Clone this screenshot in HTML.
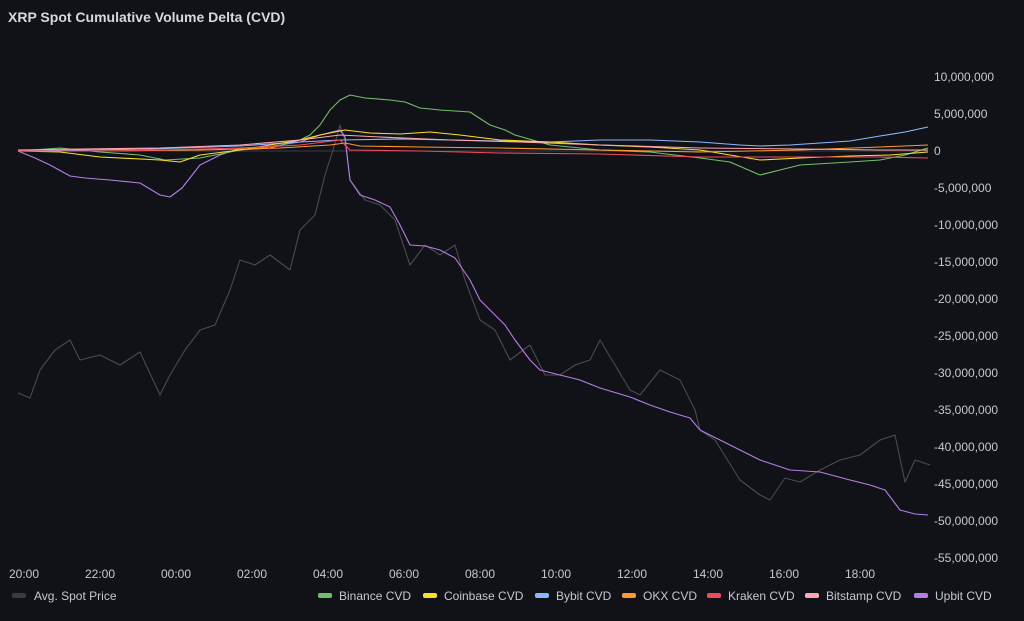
<!DOCTYPE html>
<html><head><meta charset="utf-8"><style>
html,body{margin:0;padding:0;background:#111217;}
body{width:1024px;height:616px;overflow:hidden;font-family:"Liberation Sans",sans-serif;}
</style></head><body>
<svg width="1024" height="616" viewBox="0 0 1024 616" xmlns="http://www.w3.org/2000/svg" font-family="Liberation Sans, sans-serif">
<rect width="1024" height="616" fill="#111217"/>
<text x="8" y="22" fill="#d8d9dc" font-size="14" font-weight="bold">XRP Spot Cumulative Volume Delta (CVD)</text>
<g fill="#c7c8cc" font-size="12" text-anchor="start">
<text x="934" y="81">10,000,000</text>
<text x="934" y="118">5,000,000</text>
<text x="934" y="155">0</text>
<text x="934" y="192">-5,000,000</text>
<text x="934" y="229">-10,000,000</text>
<text x="934" y="266">-15,000,000</text>
<text x="934" y="303">-20,000,000</text>
<text x="934" y="340">-25,000,000</text>
<text x="934" y="377">-30,000,000</text>
<text x="934" y="414">-35,000,000</text>
<text x="934" y="451">-40,000,000</text>
<text x="934" y="488">-45,000,000</text>
<text x="934" y="525">-50,000,000</text>
<text x="934" y="562">-55,000,000</text>
</g>
<g fill="#c7c8cc" font-size="12" text-anchor="middle">
<text x="24" y="578">20:00</text><text x="100" y="578">22:00</text><text x="176" y="578">00:00</text>
<text x="252" y="578">02:00</text><text x="328" y="578">04:00</text><text x="404" y="578">06:00</text>
<text x="480" y="578">08:00</text><text x="556" y="578">10:00</text><text x="632" y="578">12:00</text>
<text x="708" y="578">14:00</text><text x="784" y="578">16:00</text><text x="860" y="578">18:00</text>
</g>
<line x1="18" y1="151" x2="928" y2="151" stroke="#3a3b40" stroke-width="1"/>
<g fill="none" stroke-width="1.1" stroke-linejoin="round">
<polyline stroke="#4a4b50" points="18,393 30,398 40,370 55,350 70,340 80,360 100,355 120,365 140,352 160,395 170,375 185,350 200,330 215,325 230,290 240,260 255,265 270,255 290,270 300,230 315,215 325,175 333,150 340,125 345,140 350,180 365,200 380,205 395,220 410,265 425,245 440,255 455,245 465,280 480,320 495,330 510,360 530,345 545,375 560,375 575,365 590,360 600,340 615,365 630,390 640,395 660,370 680,380 695,410 700,430 715,440 740,480 760,495 770,500 785,478 800,482 820,470 840,460 860,455 880,440 895,435 905,482 915,460 930,465"/>
<polyline stroke="#b57ee5" points="18,151 35,158 50,165 70,176 85,178 110,180 140,183 160,195 170,197 182,188 200,165 220,155 235,150 260,148 280,145 300,142 320,135 332,132 340,130 345,137 350,180 360,195 375,200 390,207 400,225 410,245 425,246 440,250 455,258 470,280 480,300 490,310 505,325 515,340 530,360 540,370 560,375 580,380 600,388 630,397 650,405 670,412 690,418 700,430 720,440 740,450 760,460 790,470 820,472 850,480 870,485 885,490 900,510 915,514 928,515"/>
<polyline stroke="#73bf69" points="18,151 60,148 100,152 140,155 165,160 200,158 240,150 270,148 300,140 310,135 320,125 330,110 340,100 350,95 365,98 390,100 405,102 420,108 440,110 470,112 490,125 505,130 515,135 550,145 600,150 650,152 700,158 730,162 760,175 780,170 800,165 850,162 880,160 905,155 928,148"/>
<polyline stroke="#8ab8ff" points="18,151 80,150 150,149 240,146 300,142 340,140 400,139 500,141 550,142 600,140 650,140 700,142 740,145 760,146 790,145 820,143 850,141 880,136 905,132 928,127"/>
<polyline stroke="#fade2a" points="18,151 60,152 100,157 160,160 180,162 200,155 240,150 270,145 300,140 320,135 345,130 370,133 400,134 430,132 460,135 500,140 550,142 600,145 650,147 700,150 730,155 760,160 800,158 850,156 890,155 928,152"/>
<polyline stroke="#ff9830" points="18,151 100,151 200,150 280,148 330,145 345,143 360,146 420,147 500,148 600,150 700,152 800,150 880,147 928,145"/>
<polyline stroke="#f2495c" points="18,151 120,151 240,148 300,145 340,140 345,145 350,150 420,151 500,153 600,154 700,157 800,157 880,157 928,158"/>
<polyline stroke="#ffa6b0" points="18,150 80,149 160,148 240,145 300,140 340,135 380,137 450,140 520,142 600,145 700,148 800,149 880,150 928,150"/>
</g>
<g font-size="12" fill="#c7c8cc">
<rect x="12" y="593" width="14" height="5" rx="2" fill="#3a3b40"/><text x="34" y="600">Avg. Spot Price</text>
<rect x="318" y="593" width="14" height="5" rx="2" fill="#73bf69"/><text x="339" y="600">Binance CVD</text>
<rect x="423" y="593" width="14" height="5" rx="2" fill="#fade2a"/><text x="444" y="600">Coinbase CVD</text>
<rect x="535" y="593" width="14" height="5" rx="2" fill="#8ab8ff"/><text x="556" y="600">Bybit CVD</text>
<rect x="622" y="593" width="14" height="5" rx="2" fill="#ff9830"/><text x="643" y="600">OKX CVD</text>
<rect x="707" y="593" width="14" height="5" rx="2" fill="#f2495c"/><text x="728" y="600">Kraken CVD</text>
<rect x="805" y="593" width="14" height="5" rx="2" fill="#ffa6b0"/><text x="826" y="600">Bitstamp CVD</text>
<rect x="914" y="593" width="14" height="5" rx="2" fill="#b57ee5"/><text x="935" y="600">Upbit CVD</text>
</g>
</svg>
</body></html>
